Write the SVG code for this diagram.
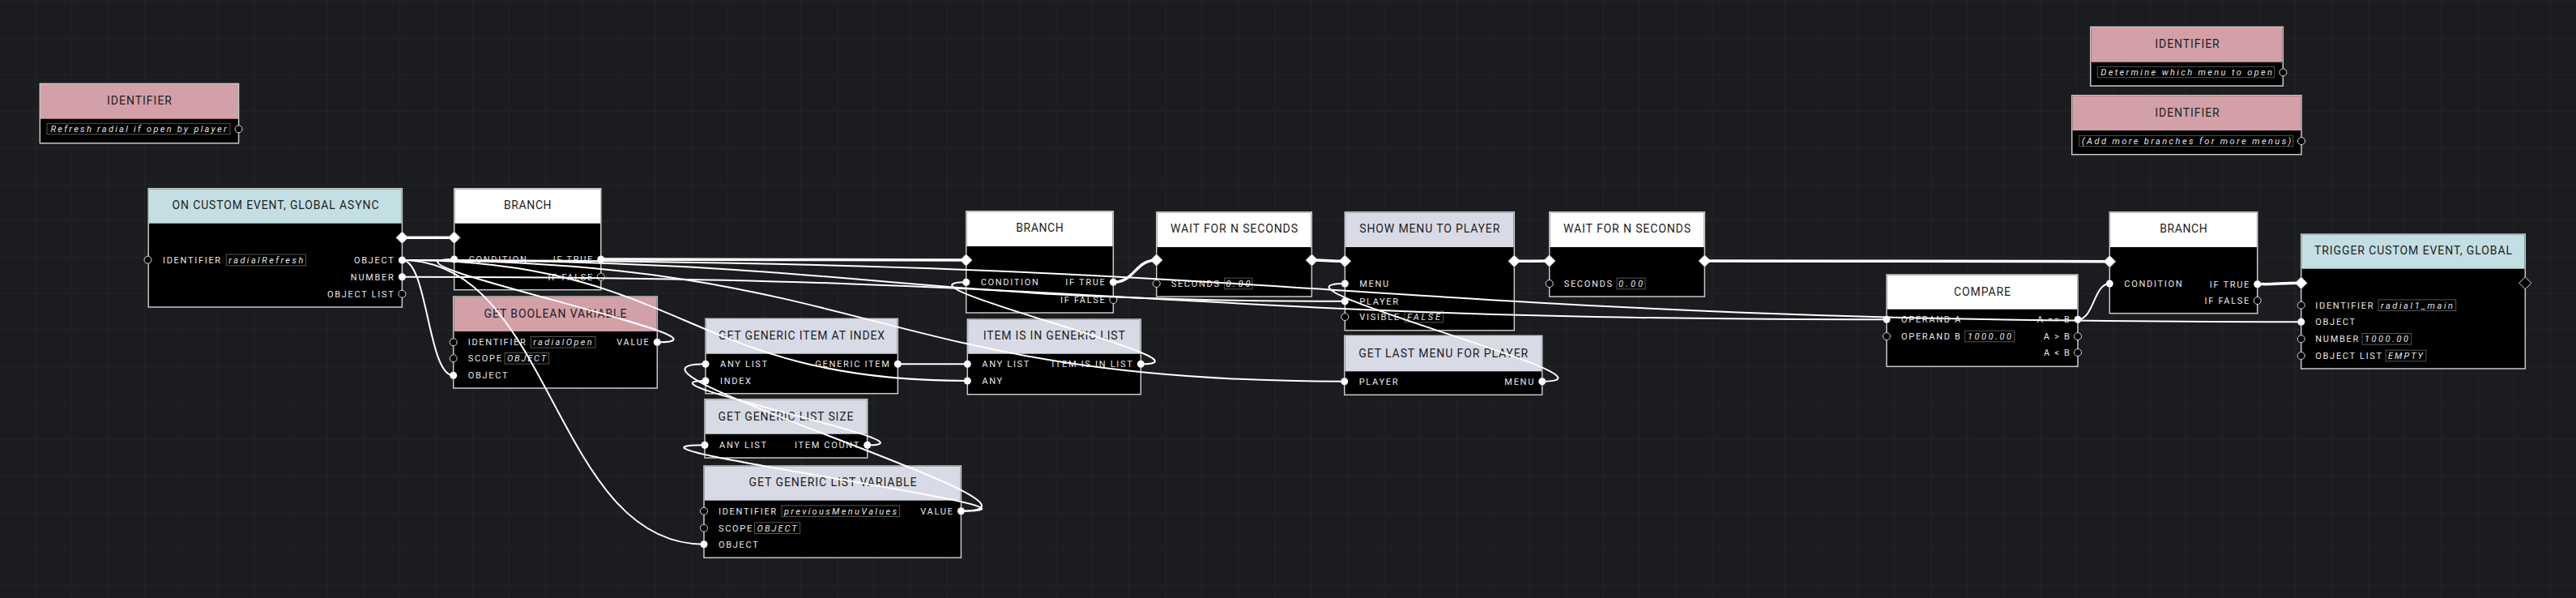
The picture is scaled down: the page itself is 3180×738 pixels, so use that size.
<svg xmlns="http://www.w3.org/2000/svg" xmlns:xlink="http://www.w3.org/1999/xlink" width="3180" height="738" viewBox="0 0 3180 738">
<style>
.frame{fill:#000;stroke:#c8c8c8;stroke-width:1.5}
.hp{fill:#d3a0a8}.hc{fill:#c3dfe3}.hl{fill:#d8dae6}.hw{fill:#ffffff}
.title{font-family:Roboto,"Liberation Sans",sans-serif;font-size:14px;fill:#1e1e1e;text-anchor:middle}
.lbl{font-family:Roboto,"Liberation Sans",sans-serif;font-size:11px;fill:#e8e8e8;letter-spacing:1.7px}
.r{text-anchor:end}
.val{font-family:Roboto,"Liberation Sans",sans-serif;font-size:11px;font-style:italic;fill:#e4e4e4}
.vbox{fill:none;stroke:#555;stroke-width:1}
.pf{fill:#fff}
.pe{fill:#000;stroke:#d8d8d8;stroke-width:1}
.ex{fill:#fff;stroke:#8a8a8a;stroke-width:1}
.exh{fill:#000;stroke:#d8d8d8;stroke-width:1}
.conn path{fill:none;stroke:#fff;stroke-linecap:round}
.conn .exec{stroke-width:3.5}
.conn .data{stroke-width:2}
</style>
<defs>
<pattern id="grid" patternUnits="userSpaceOnUse" x="43.3" y="1.7" width="45" height="45">
<rect width="45" height="45" fill="#1b1c1f"/>
<path d="M0 0H45M0 0V45" stroke="#25262a" stroke-width="1.5" fill="none"/>
</pattern>
<polygon id="dia" points="0,-7.5 7.5,0 0,7.5 -7.5,0"/>
</defs>
<rect width="3180" height="738" fill="url(#grid)"/>

<g id="comment-refresh">
<rect class="frame" x="49.3" y="103.3" width="245.3" height="73.4"/>
<rect class="hp" x="50" y="104" width="244" height="42.7"/>
<text class="title" x="172" y="129.3" textLength="80" lengthAdjust="spacing">IDENTIFIER</text>
<rect class="vbox" x="58" y="152.3" width="226" height="13.4"/>
<text class="val" x="62.5" y="163" textLength="217" lengthAdjust="spacing">Refresh radial if open by player</text>
<circle class="pe" cx="294.6" cy="159.3" r="4.5"/>
</g>

<g id="on-custom-event">
<rect class="frame" x="183.2" y="232.7" width="313.2" height="146.3"/>
<rect class="hc" x="184" y="233.4" width="311.6" height="42.3"/>
<text class="title" x="340" y="258.3" textLength="255" lengthAdjust="spacing">ON CUSTOM EVENT, GLOBAL ASYNC</text>
<use xlink:href="#dia" class="ex" x="496.4" y="293.3"/>
<circle class="pe" cx="182.5" cy="320.7" r="4.5"/>
<text class="lbl" x="201" y="324.7">IDENTIFIER</text>
<rect class="vbox" x="279.3" y="314" width="98.2" height="13.7"/>
<text class="val" x="282.3" y="324.7" textLength="92" lengthAdjust="spacing">radialRefresh</text>
<text class="lbl r" x="487.5" y="325">OBJECT</text>
<text class="lbl r" x="487.5" y="345.7">NUMBER</text>
<text class="lbl r" x="487.5" y="366.7">OBJECT LIST</text>
<circle class="pf" cx="496.4" cy="321" r="4.5"/>
<circle class="pf" cx="496.4" cy="341.7" r="4.5"/>
<circle class="pe" cx="496.4" cy="362.7" r="4.5"/>
</g>

<g id="branch-1">
<rect class="frame" x="560.7" y="232.7" width="181.1" height="125"/>
<rect class="hw" x="561.5" y="233.4" width="179.5" height="42.3"/>
<text class="title" x="651.3" y="258.3" textLength="58.6" lengthAdjust="spacing">BRANCH</text>
<use xlink:href="#dia" class="ex" x="560.7" y="293.3"/>
<text class="lbl" x="578.7" y="324">CONDITION</text>
<text class="lbl r" x="733" y="324">IF TRUE</text>
<text class="lbl r" x="733" y="345.7">IF FALSE</text>
<circle class="pf" cx="560.7" cy="320" r="4.5"/>
<circle class="pf" cx="741.8" cy="320" r="4.5"/>
<circle class="pe" cx="741.8" cy="341.7" r="4.5"/>
</g>

<g id="get-boolean-variable">
<rect class="frame" x="559.7" y="366" width="251.6" height="113"/>
<rect class="hp" x="560.5" y="366.7" width="250" height="42.3"/>
<text class="title" x="685.5" y="392.3" textLength="176" lengthAdjust="spacing">GET BOOLEAN VARIABLE</text>
<circle class="pe" cx="559.7" cy="422.3" r="4.5"/>
<text class="lbl" x="577.7" y="426.3">IDENTIFIER</text>
<rect class="vbox" x="655.2" y="415.5" width="79.8" height="13.6"/>
<text class="val" x="658.2" y="426.3" textLength="72.5" lengthAdjust="spacing">radialOpen</text>
<circle class="pe" cx="559.7" cy="442.3" r="4.5"/>
<text class="lbl" x="577.7" y="446.3">SCOPE</text>
<rect class="vbox" x="623" y="435.5" width="54.7" height="13.6"/>
<text class="val" x="626" y="446.3" textLength="48" lengthAdjust="spacing">OBJECT</text>
<circle class="pf" cx="559.7" cy="463.3" r="4.5"/>
<text class="lbl" x="577.7" y="467.3">OBJECT</text>
<text class="lbl r" x="802.5" y="426.3">VALUE</text>
<circle class="pf" cx="811.3" cy="422.3" r="4.5"/>
</g>

<g id="get-generic-item-at-index">
<rect class="frame" x="871" y="393.3" width="237.3" height="92.4"/>
<rect class="hl" x="871.8" y="394" width="235.7" height="42.7"/>
<text class="title" x="989.5" y="419" textLength="205" lengthAdjust="spacing">GET GENERIC ITEM AT INDEX</text>
<text class="lbl" x="889" y="453.3">ANY LIST</text>
<text class="lbl" x="889" y="474">INDEX</text>
<text class="lbl r" x="1099.5" y="453.3">GENERIC ITEM</text>
<circle class="pf" cx="871" cy="449.3" r="4.5"/>
<circle class="pf" cx="871" cy="470" r="4.5"/>
<circle class="pf" cx="1108.3" cy="449.3" r="4.5"/>
</g>

<g id="get-generic-list-size">
<rect class="frame" x="870" y="492.7" width="200.7" height="72.3"/>
<rect class="hl" x="870.8" y="493.4" width="199.1" height="42.3"/>
<text class="title" x="970" y="519" textLength="167" lengthAdjust="spacing">GET GENERIC LIST SIZE</text>
<text class="lbl" x="888" y="553.3">ANY LIST</text>
<text class="lbl r" x="1062" y="553.3">ITEM COUNT</text>
<circle class="pf" cx="870" cy="549.3" r="4.5"/>
<circle class="pf" cx="1070.7" cy="549.3" r="4.5"/>
</g>

<g id="get-generic-list-variable">
<rect class="frame" x="869" y="575" width="317.4" height="113.3"/>
<rect class="hl" x="869.8" y="575.7" width="315.8" height="42"/>
<text class="title" x="1028" y="600.3" textLength="207" lengthAdjust="spacing">GET GENERIC LIST VARIABLE</text>
<circle class="pe" cx="869" cy="630.7" r="4.5"/>
<text class="lbl" x="887" y="634.7">IDENTIFIER</text>
<rect class="vbox" x="965" y="623.9" width="145.6" height="13.6"/>
<text class="val" x="968" y="634.7" textLength="139" lengthAdjust="spacing">previousMenuValues</text>
<circle class="pe" cx="869" cy="651.7" r="4.5"/>
<text class="lbl" x="887" y="655.7">SCOPE</text>
<rect class="vbox" x="931.6" y="644.9" width="56" height="13.6"/>
<text class="val" x="934.6" y="655.7" textLength="49" lengthAdjust="spacing">OBJECT</text>
<circle class="pf" cx="869" cy="671.7" r="4.5"/>
<text class="lbl" x="887" y="675.7">OBJECT</text>
<text class="lbl r" x="1177.5" y="634.7">VALUE</text>
<circle class="pf" cx="1186.4" cy="630.7" r="4.5"/>
</g>

<g id="branch-2">
<rect class="frame" x="1192.7" y="260.7" width="181.6" height="125.3"/>
<rect class="hw" x="1193.5" y="261.4" width="180" height="42.6"/>
<text class="title" x="1283.5" y="286.3" textLength="58.6" lengthAdjust="spacing">BRANCH</text>
<use xlink:href="#dia" class="ex" x="1192.7" y="321"/>
<text class="lbl" x="1210.7" y="352.3">CONDITION</text>
<text class="lbl r" x="1365.5" y="352.3">IF TRUE</text>
<text class="lbl r" x="1365.5" y="374">IF FALSE</text>
<circle class="pf" cx="1192.7" cy="348.3" r="4.5"/>
<circle class="pf" cx="1374.3" cy="348.3" r="4.5"/>
<circle class="pe" cx="1374.3" cy="370" r="4.5"/>
</g>

<g id="item-is-in-generic-list">
<rect class="frame" x="1194.3" y="394" width="214" height="92.7"/>
<rect class="hl" x="1195.1" y="394.7" width="212.4" height="42"/>
<text class="title" x="1301.3" y="419" textLength="175" lengthAdjust="spacing">ITEM IS IN GENERIC LIST</text>
<text class="lbl" x="1212.3" y="453.3">ANY LIST</text>
<text class="lbl" x="1212.3" y="474">ANY</text>
<text class="lbl r" x="1399.5" y="453.3">ITEM IS IN LIST</text>
<circle class="pf" cx="1194.3" cy="449.3" r="4.5"/>
<circle class="pf" cx="1194.3" cy="470" r="4.5"/>
<circle class="pf" cx="1408.3" cy="449.3" r="4.5"/>
</g>

<g id="wait-1">
<rect class="frame" x="1427.7" y="261.7" width="191.6" height="104.3"/>
<rect class="hw" x="1428.5" y="262.4" width="190" height="42.6"/>
<text class="title" x="1523.5" y="287" textLength="157" lengthAdjust="spacing">WAIT FOR N SECONDS</text>
<use xlink:href="#dia" class="ex" x="1427.7" y="321"/>
<use xlink:href="#dia" class="ex" x="1619.3" y="321"/>
<circle class="pe" cx="1427.7" cy="350" r="4.5"/>
<text class="lbl" x="1445.7" y="354">SECONDS</text>
<rect class="vbox" x="1511.7" y="343.2" width="34" height="13.6"/>
<text class="val" x="1513.5" y="354" textLength="30" lengthAdjust="spacing">0.00</text>
</g>

<g id="show-menu-to-player">
<rect class="frame" x="1660.3" y="261.7" width="209" height="146"/>
<rect class="hl" x="1661.1" y="262.4" width="207.4" height="42.6"/>
<text class="title" x="1764.8" y="287" textLength="173" lengthAdjust="spacing">SHOW MENU TO PLAYER</text>
<use xlink:href="#dia" class="ex" x="1660.3" y="322.3"/>
<use xlink:href="#dia" class="ex" x="1869.3" y="322.3"/>
<circle class="pf" cx="1660.3" cy="350" r="4.5"/>
<text class="lbl" x="1678.3" y="354">MENU</text>
<circle class="pf" cx="1660.3" cy="371.7" r="4.5"/>
<text class="lbl" x="1678.3" y="375.7">PLAYER</text>
<circle class="pe" cx="1660.3" cy="391" r="4.5"/>
<text class="lbl" x="1678.3" y="395">VISIBLE</text>
<rect class="vbox" x="1734" y="384.2" width="47.7" height="13.6"/>
<text class="val" x="1737" y="395" textLength="41" lengthAdjust="spacing">FALSE</text>
</g>

<g id="get-last-menu-for-player">
<rect class="frame" x="1659.7" y="414.3" width="244" height="73"/>
<rect class="hl" x="1660.5" y="415" width="242.4" height="43.3"/>
<text class="title" x="1781.7" y="440.7" textLength="209" lengthAdjust="spacing">GET LAST MENU FOR PLAYER</text>
<text class="lbl" x="1677.7" y="474.7">PLAYER</text>
<text class="lbl r" x="1895" y="474.7">MENU</text>
<circle class="pf" cx="1659.7" cy="470.7" r="4.5"/>
<circle class="pf" cx="1903.7" cy="470.7" r="4.5"/>
</g>

<g id="wait-2">
<rect class="frame" x="1912.7" y="261.7" width="191.6" height="104.3"/>
<rect class="hw" x="1913.5" y="262.4" width="190" height="42.6"/>
<text class="title" x="2008.5" y="287" textLength="157" lengthAdjust="spacing">WAIT FOR N SECONDS</text>
<use xlink:href="#dia" class="ex" x="1912.7" y="322"/>
<use xlink:href="#dia" class="ex" x="2104.3" y="322"/>
<circle class="pe" cx="1912.7" cy="350" r="4.5"/>
<text class="lbl" x="1930.7" y="354">SECONDS</text>
<rect class="vbox" x="1996" y="343.2" width="35" height="13.6"/>
<text class="val" x="1998" y="354" textLength="30" lengthAdjust="spacing">0.00</text>
</g>

<g id="compare">
<rect class="frame" x="2329" y="339" width="236" height="113.3"/>
<rect class="hw" x="2329.8" y="339.7" width="234.4" height="42"/>
<text class="title" x="2447" y="365" textLength="70" lengthAdjust="spacing">COMPARE</text>
<circle class="pf" cx="2329" cy="394.3" r="4.5"/>
<text class="lbl" x="2347" y="398.3">OPERAND A</text>
<circle class="pe" cx="2329" cy="415" r="4.5"/>
<text class="lbl" x="2347" y="419">OPERAND B</text>
<rect class="vbox" x="2425.7" y="408.2" width="61" height="13.6"/>
<text class="val" x="2429" y="419" textLength="54" lengthAdjust="spacing">1000.00</text>
<text class="lbl r" x="2556.5" y="398.3">A == B</text>
<text class="lbl r" x="2556.5" y="419">A &gt; B</text>
<text class="lbl r" x="2556.5" y="439">A &lt; B</text>
<circle class="pf" cx="2565" cy="394.3" r="4.5"/>
<circle class="pe" cx="2565" cy="415" r="4.5"/>
<circle class="pe" cx="2565" cy="435" r="4.5"/>
</g>

<g id="branch-3">
<rect class="frame" x="2604.3" y="261.7" width="182.4" height="125"/>
<rect class="hw" x="2605.1" y="262.4" width="180.8" height="42.6"/>
<text class="title" x="2695.5" y="287.3" textLength="58.6" lengthAdjust="spacing">BRANCH</text>
<use xlink:href="#dia" class="ex" x="2604.3" y="322.7"/>
<text class="lbl" x="2622.3" y="354">CONDITION</text>
<text class="lbl r" x="2778" y="354.7">IF TRUE</text>
<text class="lbl r" x="2778" y="375">IF FALSE</text>
<circle class="pf" cx="2604.3" cy="350" r="4.5"/>
<circle class="pf" cx="2786.7" cy="350.7" r="4.5"/>
<circle class="pe" cx="2786.7" cy="371" r="4.5"/>
</g>

<g id="trigger-custom-event">
<rect class="frame" x="2840.7" y="289" width="276.6" height="166"/>
<rect class="hc" x="2841.5" y="289.7" width="275" height="42"/>
<text class="title" x="2979" y="314.3" textLength="244" lengthAdjust="spacing">TRIGGER CUSTOM EVENT, GLOBAL</text>
<use xlink:href="#dia" class="ex" x="2840.7" y="349.3"/>
<use xlink:href="#dia" class="exh" x="3117.3" y="349.3"/>
<circle class="pe" cx="2840.7" cy="376.7" r="4.5"/>
<text class="lbl" x="2858.3" y="380.7">IDENTIFIER</text>
<rect class="vbox" x="2936" y="369.9" width="95.7" height="13.6"/>
<text class="val" x="2939" y="380.7" textLength="89" lengthAdjust="spacing">radial1_main</text>
<circle class="pf" cx="2840.7" cy="397.3" r="4.5"/>
<text class="lbl" x="2858.3" y="401.3">OBJECT</text>
<circle class="pe" cx="2840.7" cy="418.3" r="4.5"/>
<text class="lbl" x="2858.3" y="422.3">NUMBER</text>
<rect class="vbox" x="2916" y="411.5" width="60.7" height="13.6"/>
<text class="val" x="2919" y="422.3" textLength="54" lengthAdjust="spacing">1000.00</text>
<circle class="pe" cx="2840.7" cy="439" r="4.5"/>
<text class="lbl" x="2858.3" y="443">OBJECT LIST</text>
<rect class="vbox" x="2945" y="432.2" width="50" height="13.6"/>
<text class="val" x="2948" y="443" textLength="43" lengthAdjust="spacing">EMPTY</text>
</g>

<g id="comment-determine">
<rect class="frame" x="2580.7" y="33.3" width="237.6" height="72.7"/>
<rect class="hp" x="2581.5" y="34" width="236" height="42.7"/>
<text class="title" x="2700" y="59" textLength="79.3" lengthAdjust="spacing">IDENTIFIER</text>
<rect class="vbox" x="2589.3" y="82.3" width="218.4" height="13.4"/>
<text class="val" x="2593.3" y="93" textLength="211.7" lengthAdjust="spacing">Determine which menu to open</text>
<circle class="pe" cx="2818.3" cy="89.3" r="4.5"/>
</g>

<g id="comment-add-more">
<rect class="frame" x="2557.7" y="117.7" width="283.3" height="73"/>
<rect class="hp" x="2558.5" y="118.4" width="281.7" height="42.6"/>
<text class="title" x="2700" y="144" textLength="79.3" lengthAdjust="spacing">IDENTIFIER</text>
<rect class="vbox" x="2566.7" y="167.3" width="264" height="13.4"/>
<text class="val" x="2570" y="178" textLength="258.3" lengthAdjust="spacing">(Add more branches for more menus)</text>
<circle class="pe" cx="2841" cy="174" r="4.5"/>
</g>

<g id="connectors" class="conn">
<path class="exec" d="M496.4 293.3 L560.7 293.3"/>
<path class="exec" d="M741.8 320 C967 320 967 321 1192.7 321"/>
<path class="exec" d="M1374.3 348.3 C1401 348.3 1401 321 1427.7 321"/>
<path class="exec" d="M1619.3 321 C1640 321 1640 322.3 1660.3 322.3"/>
<path class="exec" d="M1869.3 322.3 C1891 322.3 1891 322 1912.7 322"/>
<path class="exec" d="M2104.3 322 C2354.3 322 2354.3 322.7 2604.3 322.7"/>
<path class="exec" d="M2786.7 350.7 C2813.7 350.7 2813.7 349.3 2840.7 349.3"/>
<path class="data" d="M811.3 422.3 C936.6 422.3 435.4 320 560.7 320"/>
<path class="data" d="M496.4 321 C528 321 528 463.3 559.7 463.3"/>
<path class="data" d="M496.4 321 C682.7 321 682.7 671.7 869 671.7"/>
<path class="data" d="M1186.4 630.7 C1344.1 630.7 713.3 449.3 871 449.3"/>
<path class="data" d="M1186.4 630.7 C1344.6 630.7 711.8 549.3 870 549.3"/>
<path class="data" d="M1070.7 549.3 C1170.6 549.3 771.1 470 871 470"/>
<path class="data" d="M1108.3 449.3 L1194.3 449.3"/>
<path class="data" d="M496.4 321 C845.4 321 845.4 470 1194.3 470"/>
<path class="data" d="M1408.3 449.3 C1516.1 449.3 1084.9 348.3 1192.7 348.3"/>
<path class="data" d="M496.4 321 C1078.4 321 1078.4 371.7 1660.3 371.7"/>
<path class="data" d="M496.4 321 C1078 321 1078 470.7 1659.7 470.7"/>
<path class="data" d="M1903.7 470.7 C2025.4 470.7 1538.6 350 1660.3 350"/>
<path class="data" d="M496.4 341.7 C1412.7 341.7 1412.7 394.3 2329 394.3"/>
<path class="data" d="M496.4 321 C1668.6 321 1668.6 397.3 2840.7 397.3"/>
<path class="data" d="M2565 394.3 C2584.7 394.3 2584.7 350 2604.3 350"/>
</g>
</svg>
